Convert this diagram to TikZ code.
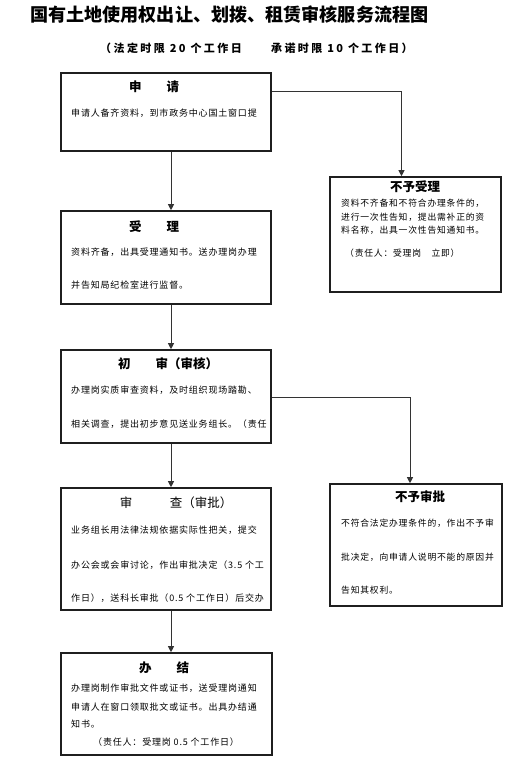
\documentclass[tikz,border=0pt]{standalone}
\usepackage{fontspec}
\setmainfont{Noto Sans CJK SC}
\usetikzlibrary{arrows.meta}
\tikzset{
  box/.style={draw=black!88, line width=1.6pt, inner sep=0pt, fill=white},
  conn/.style={draw=black!80, line width=0.9pt},
  arr/.style={conn, -{Triangle[length=6pt,width=6pt]}},
  body/.style={anchor=west, inner sep=0pt, font=\fontsize{9}{10}\selectfont\addfontfeature{LetterSpace=9}},
  sbody/.style={anchor=west, inner sep=0pt, font=\fontsize{8.8}{10}\selectfont\addfontfeature{LetterSpace=9}},
  btitle/.style={anchor=center, inner sep=0pt, font=\bfseries\fontsize{12.5}{14}\selectfont},
  rtitle/.style={anchor=center, inner sep=0pt, font=\fontsize{12.5}{14}\selectfont},
}
\begin{document}
\begin{tikzpicture}[x=1pt,y=-1pt]
\fill[white] (0,0) rectangle (518,766);
\useasboundingbox (0,0) rectangle (518,766);

\node[anchor=west, inner sep=0pt, font=\bfseries\fontsize{18.1}{20}\selectfont] (title) at (30,15) {国有土地使用权出让、划拨、租赁审核服务流程图};
\node[anchor=west, inner sep=0pt, font=\bfseries\fontsize{11}{12}\selectfont\addfontfeature{LetterSpace=22}] (sub) at (100,48) {（法定时限 20 个工作日　　承诺时限 10 个工作日）};

% boxes
\node[box, minimum width=210, minimum height=78] (b1) at (166,112) {};
\node[box, minimum width=210, minimum height=93] (b2) at (166,257.5) {};
\node[box, minimum width=210, minimum height=93] (b3) at (166,396.5) {};
\node[box, minimum width=210, minimum height=122] (b4) at (166,549) {};
\node[box, minimum width=211, minimum height=102] (b5) at (166.5,704) {};
\node[box, minimum width=171, minimum height=115] (n1) at (415.5,234.5) {};
\node[box, minimum width=172, minimum height=122] (n2) at (416,545) {};

% box 1
\node[btitle] (t1) at (154,87) {申　　请};
\node[body] (t1a) at (71,113) {申请人备齐资料，到市政务中心国土窗口提};

% box 2
\node[btitle] (t2) at (154,227) {受　　理};
\node[body] (t2a) at (71,252) {资料齐备，出具受理通知书。送办理岗办理};
\node[body] (t2b) at (71,285) {并告知局纪检室进行监督。};

% box 3
\node[btitle] (t3) at (168,364) {初　　审（审核）};
\node[body] (t3a) at (71,390) {办理岗实质审查资料，及时组织现场踏勘、};
\node[body] (t3b) at (71,424) {相关调查，提出初步意见送业务组长。（责任};

% box 4
\node[rtitle] (t4) at (176,503) {审　　　查（审批）};
\node[body] (t4a) at (71,530) {业务组长用法律法规依据实际性把关，提交};
\node[body] (t4b) at (71,565) {办公会或会审讨论，作出审批决定（3.5 个工};
\node[body] (t4c) at (71,598) {作日），送科长审批（0.5 个工作日）后交办};

% box 5
\node[btitle] (t5) at (164,668) {办　　结};
\node[body] (t5a) at (71,688) {办理岗制作审批文件或证书，送受理岗通知};
\node[body] (t5b) at (71,707) {申请人在窗口领取批文或证书。出具办结通};
\node[body] (t5c) at (71,724) {知书。};
\node[body] (t5d) at (93,742) {（责任人：受理岗 0.5 个工作日）};

% not accepted
\node[btitle] (tn1) at (415,187) {不予受理};
\node[sbody] (n1a) at (341,203) {资料不齐备和不符合办理条件的，};
\node[sbody] (n1b) at (341,217) {进行一次性告知，提出需补正的资};
\node[sbody] (n1c) at (341,230) {料名称，出具一次性告知通知书。};
\node[sbody] (n1d) at (345,253) {（责任人：受理岗　立即）};

% not approved
\node[btitle] (tn2) at (420,497) {不予审批};
\node[sbody] (n2a) at (341,523) {不符合法定办理条件的，作出不予审};
\node[sbody] (n2b) at (341,557) {批决定，向申请人说明不能的原因并};
\node[sbody] (n2c) at (341,590) {告知其权利。};

% connectors
\coordinate (ax) at (171,0);
\draw[arr] (b1.south -| ax) -- (b2.north -| ax);
\draw[arr] (b2.south -| ax) -- (b3.north -| ax);
\draw[arr] (b3.south -| ax) -- (b4.north -| ax);
\draw[arr] (b4.south -| ax) -- (b5.north -| ax);
\coordinate (c1) at (401.5,91);
\draw[arr] (b1.east |- c1) -| (n1.north -| c1);
\coordinate (c2) at (410,397);
\draw[arr] (b3.east |- c2) -| (n2.north -| c2);
\end{tikzpicture}
\end{document}
